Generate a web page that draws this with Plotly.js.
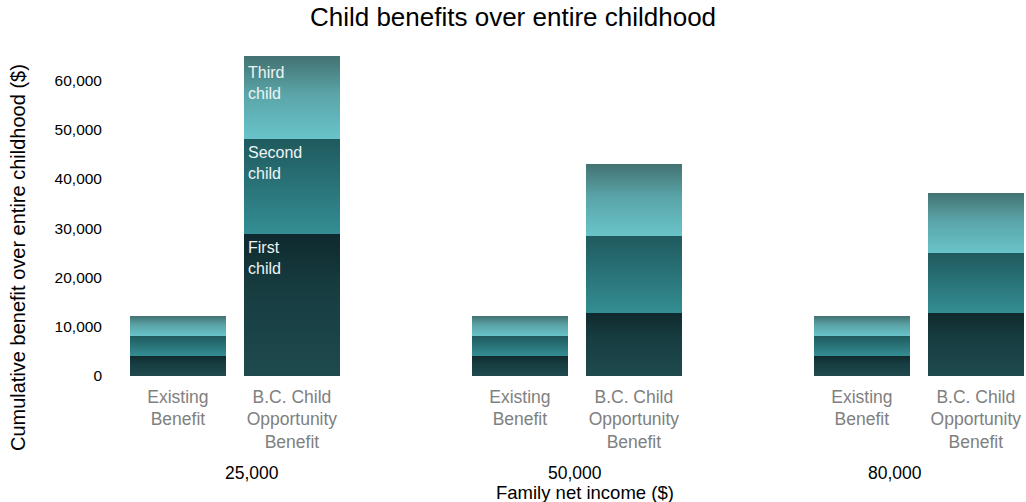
<!DOCTYPE html>
<html><head><meta charset="utf-8">
<script src="https://cdn.plot.ly/plotly-3.0.1.min.js"></script>
<style>html,body{margin:0;padding:0;background:#fff}#chart{width:1026px;height:502px}</style>
</head><body><div id="chart"></div>
<script>
// ---- data ----
const incomes = ["25,000", "50,000", "80,000"];
const programs = ["Existing<br>Benefit", "B.C. Child<br>Opportunity<br>Benefit"];
const barSlots = [0, 1, 3, 4, 6, 7];           // category slots (empty slot between income groups)
const barLabels = [programs[0], programs[1], programs[0], programs[1], programs[0], programs[1]];
const firstChild  = [4050, 28800, 4050, 12750, 4050, 12750];
const secondChild = [4050, 19300, 4050, 15650, 4050, 12200];
const thirdChild  = [4050, 16800, 4050, 14650, 4050, 12200];
const seriesNames = ["First<br>child", "Second<br>child", "Third<br>child"];
const yTicks = [0, 10000, 20000, 30000, 40000, 50000, 60000];

// ---- styles ----
const FONT = "Liberation Sans";
const barWidth = 0.842;
const segmentGradients = [
  [[0, "#0f2a2e"], [0.4, "#173d41"], [1, "#1e4a4e"]],
  [[0, "#1f5a5e"], [1, "#348e93"]],
  [[0, "#437272"], [0.45, "#5aa4a8"], [1, "#69c4c9"]]
];
const incomeLabelX = [0.654, 3.48, 6.29];
const segLabelShift = [-3, -3, -6];

const series = [firstChild, secondChild, thirdChild];
const traces = series.map((vals, i) => ({
  type: "bar",
  x: barSlots,
  y: vals,
  width: barWidth,
  name: seriesNames[i].replace("<br>", " "),
  marker: {color: segmentGradients[i][segmentGradients[i].length - 1][1], line: {width: 0}},
  hoverinfo: "skip"
}));

// segment labels inside the tallest bar (index 1)
const labelBar = 1;
let cum = 0;
const segAnnotations = series.map((vals, i) => {
  cum += vals[labelBar];
  return {
    x: barSlots[labelBar] - barWidth / 2, y: cum, xref: "x", yref: "y",
    xanchor: "left", yanchor: "top", align: "left", xshift: 2, yshift: segLabelShift[i],
    text: seriesNames[i], showarrow: false,
    font: {family: FONT, size: 16, color: "#eef4f4"}
  };
});

const incomeAnnotations = incomes.map((t, i) => ({
  x: incomeLabelX[i], xref: "x", y: -0.298, yref: "paper",
  xanchor: "center", yanchor: "middle", text: t, showarrow: false,
  font: {family: FONT, size: 17.5, color: "#000"}
}));

const layout = {
  width: 1026, height: 502,
  paper_bgcolor: "#fff", plot_bgcolor: "#fff",
  font: {family: FONT},
  margin: {l: 103, r: 0, t: 51, b: 126},
  barmode: "stack",
  showlegend: false,
  title: {text: "Child benefits over entire childhood", font: {family: FONT, size: 26, color: "#000"},
          x: 0.5, xref: "container", xanchor: "center", y: 0.966, yref: "container", yanchor: "middle"},
  xaxis: {range: [-0.657, 7.44], tickvals: barSlots, ticktext: barLabels,
          tickfont: {family: FONT, size: 17.5, color: "#808080"}, ticks: "", ticklabelstandoff: 8,
          showgrid: false, zeroline: false, showline: false, fixedrange: true},
  yaxis: {range: [0, 66000], tickvals: yTicks, tickformat: ",", ticks: "",
          tickfont: {family: FONT, size: 15.5, color: "#000"},
          showgrid: false, zeroline: false, showline: false, fixedrange: true},
  annotations: [
    ...segAnnotations,
    ...incomeAnnotations,
    {x: 0.522, xref: "paper", y: -0.357, yref: "paper", xanchor: "center", yanchor: "middle",
     text: "Family net income ($)", showarrow: false, font: {family: FONT, size: 18.5, color: "#000"}},
    {x: -0.0921, xref: "paper", y: 0.366, yref: "paper", xanchor: "center", yanchor: "middle",
     textangle: -90, text: "Cumulative benefit over entire childhood ($)", showarrow: false,
     font: {family: FONT, size: 20, color: "#000"}}
  ]
};

Plotly.newPlot("chart", traces, layout, {displayModeBar: false, staticPlot: true}).then(gd => {
  const ns = "http://www.w3.org/2000/svg";
  const svg = gd.querySelector("svg.main-svg");
  let defs = svg.querySelector("defs");
  if (!defs) { defs = document.createElementNS(ns, "defs"); svg.insertBefore(defs, svg.firstChild); }
  segmentGradients.forEach((g, i) => {
    const lg = document.createElementNS(ns, "linearGradient");
    lg.setAttribute("id", "seg-grad-" + i);
    lg.setAttribute("x1", "0"); lg.setAttribute("y1", "0");
    lg.setAttribute("x2", "0"); lg.setAttribute("y2", "1");
    g.forEach(([off, col]) => {
      const s = document.createElementNS(ns, "stop");
      s.setAttribute("offset", off); s.setAttribute("stop-color", col);
      lg.appendChild(s);
    });
    defs.appendChild(lg);
  });
  gd.querySelectorAll(".barlayer .trace").forEach((tr, i) => {
    tr.querySelectorAll("path").forEach(p => { p.style.fill = "url(#seg-grad-" + i + ")"; });
  });
});
</script>
</body></html>
